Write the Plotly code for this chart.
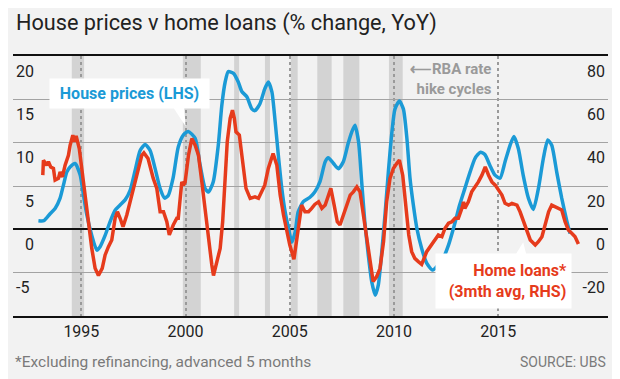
import plotly.graph_objects as go

# ---------------- DATA ----------------
house_year = [1992.94, 1993.2, 1993.5, 1993.74, 1993.98, 1994.14, 1994.3, 1994.46, 1994.7, 1994.94,
              1995.1, 1995.26, 1995.5, 1995.74, 1995.9, 1996.14, 1996.38, 1996.62, 1996.86, 1997.1,
              1997.34, 1997.58, 1997.82, 1998.06, 1998.3, 1998.54, 1998.78, 1999.0, 1999.17, 1999.4,
              1999.65, 1999.9, 2000.13, 2000.46, 2000.7, 2000.94, 2001.1, 2001.33, 2001.57, 2001.74,
              2001.9, 2002.05, 2002.3, 2002.53, 2002.7, 2002.94, 2003.18, 2003.33, 2003.57, 2003.8,
              2003.97, 2004.14, 2004.3, 2004.45, 2004.62, 2004.78, 2004.94, 2005.1, 2005.26, 2005.4,
              2005.65, 2005.97, 2006.2, 2006.45, 2006.7, 2006.85, 2007.1, 2007.33, 2007.57, 2007.8,
              2007.97, 2008.13, 2008.3, 2008.45, 2008.6, 2008.77, 2008.93, 2009.1, 2009.25, 2009.4,
              2009.57, 2009.73, 2009.9, 2010.05, 2010.26, 2010.45, 2010.62, 2010.77, 2010.93, 2011.1,
              2011.33, 2011.57, 2011.85, 2012.13, 2012.37, 2012.62, 2012.9, 2013.15, 2013.4, 2013.65,
              2013.89, 2014.15, 2014.37, 2014.6, 2014.85, 2015.09, 2015.33, 2015.57, 2015.76, 2015.97,
              2016.2, 2016.45, 2016.69, 2016.93, 2017.17, 2017.38, 2017.57, 2017.81, 2018.05, 2018.3,
              2018.45]
house_pct = [1.0, 1.0, 1.8, 2.4, 3.6, 5.1, 6.6, 7.2, 7.6, 6.3,
             4.0, 1.7, -0.7, -2.4, -2.0, -0.7, 0.9, 2.2, 2.8, 3.4,
             4.5, 6.8, 9.1, 9.8, 9.1, 7.0, 4.7, 3.6, 3.9, 5.9,
             9.5, 10.9, 11.3, 10.5, 7.4, 4.7, 4.3, 5.5, 9.7, 14.3,
             17.0, 18.2, 18.0, 17.0, 15.9, 15.3, 13.9, 13.7, 14.5, 16.2,
             17.0, 15.9, 12.4, 8.6, 4.7, 2.0, 0.1, -1.5, -0.3, 2.0,
             3.2, 3.7, 4.3, 5.5, 7.8, 8.25, 7.6, 7.0, 7.8, 9.9,
             11.2, 12.0, 10.1, 5.5, 0.9, -3.0, -6.0, -7.6, -6.4, -3.0,
             1.7, 6.6, 11.2, 13.9, 14.8, 13.9, 10.5, 5.9, 2.8, 0.1,
             -2.2, -3.9, -4.7, -4.1, -3.3, -1.8, 0.5, 2.8, 4.7, 6.6,
             8.2, 8.9, 8.6, 7.4, 6.25, 5.9, 7.8, 9.7, 10.7, 9.3,
             6.25, 3.6, 2.3, 4.7, 8.2, 10.3, 9.7, 6.6, 3.6, 0.9,
             -0.5]

loans_year = [1993.15, 1993.18, 1993.34, 1993.42, 1993.53, 1993.66, 1993.74, 1993.9, 1993.98, 1994.09,
              1994.22, 1994.38, 1994.46, 1994.59, 1994.66, 1994.75, 1994.9, 1995.02, 1995.18, 1995.34,
              1995.5, 1995.66, 1995.82, 1996.0, 1996.14, 1996.3, 1996.46, 1996.62, 1996.73, 1996.86,
              1997.0, 1997.18, 1997.34, 1997.5, 1997.66, 1997.9, 1998.0, 1998.2, 1998.45, 1998.62,
              1998.78, 1998.94, 1999.1, 1999.22, 1999.41, 1999.58, 1999.65, 1999.74, 1999.82, 1999.9,
              1999.98, 2000.14, 2000.3, 2000.46, 2000.62, 2000.78, 2000.94, 2001.1, 2001.26, 2001.34,
              2001.5, 2001.66, 2001.78, 2001.9, 2002.0, 2002.14, 2002.25, 2002.34, 2002.42, 2002.58,
              2002.74, 2002.9, 2003.1, 2003.33, 2003.5, 2003.66, 2003.8, 2003.97, 2004.2, 2004.38,
              2004.54, 2004.7, 2004.86, 2005.0, 2005.2, 2005.4, 2005.57, 2005.73, 2005.9, 2006.05,
              2006.2, 2006.38, 2006.54, 2006.7, 2006.86, 2006.97, 2007.13, 2007.28, 2007.41, 2007.57,
              2007.73, 2007.9, 2008.05, 2008.22, 2008.37, 2008.53, 2008.7, 2008.85, 2009.0, 2009.17,
              2009.33, 2009.5, 2009.65, 2009.81, 2009.97, 2010.13, 2010.26, 2010.42, 2010.58, 2010.71,
              2010.85, 2011.0, 2011.17, 2011.33, 2011.57, 2011.73, 2011.97, 2012.13, 2012.3, 2012.45,
              2012.62, 2012.78, 2012.93, 2013.09, 2013.26, 2013.34, 2013.4, 2013.57, 2013.73, 2013.9,
              2014.05, 2014.22, 2014.38, 2014.54, 2014.7, 2014.86, 2015.02, 2015.18, 2015.33, 2015.5,
              2015.66, 2015.9, 2016.05, 2016.22, 2016.38, 2016.54, 2016.78, 2016.93, 2017.1, 2017.26,
              2017.42, 2017.57, 2017.73, 2017.9, 2018.05, 2018.21, 2018.37, 2018.53, 2018.69, 2018.85]
loans_pct = [25, 31.9, 29.6, 31.2, 28.8, 28.1, 22.7, 23.5, 26.5, 24.2,
             29.6, 34.2, 38.8, 43.5, 40.4, 43.1, 37.3, 28.1, 14.3, 3.5,
             -8.8, -18, -21.3, -18, -11.8, -8.0, -4.9, 5.1, 8.1, 5.1,
             1.2, 6.6, 12.7, 20.4, 26.5, 34.2, 35.3, 32.7, 23.5, 18.9,
             8.1, 8.1, 3.5, -2.6, 2.0, 5.1, 5.1, 15.8, 21.9, 20.4,
             21.9, 34.2, 41.9, 38.8, 34.2, 21.9, 8.1, -4.1, -16.5, -21.3,
             -14.9, -8.8, 3.5, 21.9, 40.4, 51.2, 55, 51.2, 45, 43.5,
             29.6, 18.9, 14.3, 15, 14.3, 17.3, 20.4, 28.1, 35, 29.6,
             15.8, 6.6, -1.1, -7.2, -13.8, 0.5, 11.2, 8.1, 8.1, 9.7,
             11.5, 12.7, 9.7, 11.2, 15.8, 18.9, 11.2, 3.5, 2.0, 6.6,
             10.4, 15.8, 17.3, 19.6, 17.3, 6.6, -5.7, -16.5, -24.1, -21.8,
             -18, -5.7, 12.7, 23.5, 28.1, 30.4, 31.9, 25, 11.2, -2.6,
             -10.3, -13.4, -14.9, -16.2, -10.3, -8.0, -4.9, -2.6, -3.4, 0.5,
             2.8, 3.5, 5.1, 5.1, 9.7, 12.7, 9.7, 12.7, 17.3, 19.6,
             21.9, 25, 28.8, 25, 21.9, 20.4, 18.1, 15.8, 12, 11.2,
             12, 11.2, 8.1, 3.5, -1.1, -4.9, -7.2, -5.7, -3.4, 2.8,
             8.1, 11.2, 10.4, 9.7, 8.9, 3.5, -0.3, -1.8, -3.4, -6.8]

# RBA rate hike cycles (start, end) in decimal years
hike_start = [1994.54, 1999.87, 2002.33, 2003.81, 2005.05, 2006.32, 2007.57, 2009.76]
hike_end = [1995.13, 2000.73, 2002.57, 2004.05, 2005.38, 2007.01, 2008.34, 2010.42]

x_ticks = [1995, 2000, 2005, 2010, 2015]
x_ticktext = ["1995", "2000", "2005", "2010", "2015"]
left_ticks = [-5, 0, 5, 10, 15, 20]
left_ticktext = ["-5", "\u20070", "\u20075", "10", "15", "20"]
right_ticks = [-20, 0, 20, 40, 60, 80]
right_ticktext = ["-20", "0", "20", "40", "60", "80"]

# ---------------- STYLE ----------------
BG = "#f2f2f2"
BLUE = "#1b9ad6"
RED = "#e63b1c"
FONT = "Roboto"
# the page body adds an 8px offset; the figure is sized to fill the rest of the window
W, H = 612, 371

fig = go.Figure()

fig.add_trace(go.Scatter(x=house_year, y=house_pct, mode="lines", yaxis="y",
                         line=dict(color=BLUE, width=3.5, shape="spline", smoothing=0.6),
                         hoverinfo="skip", showlegend=False))
fig.add_trace(go.Scatter(x=loans_year, y=loans_pct, mode="lines", yaxis="y2",
                         line=dict(color=RED, width=3.5),
                         hoverinfo="skip", showlegend=False))

shapes = []
for s, e in zip(hike_start, hike_end):
    shapes.append(dict(type="rect", xref="x", yref="paper", x0=s, x1=e, y0=0, y1=1,
                       fillcolor="#d3d3d3", line=dict(width=0), layer="below"))

# callout wedges
shapes.append(dict(type="path", xref="x", yref="y",
                   path="M 1999.35,14.3 L 1999.93,14.3 L 2000.0,11.9 Z",
                   fillcolor="white", line=dict(width=0), layer="above"))
shapes.append(dict(type="path", xref="x", yref="y2",
                   path="M 2015.72,-13.5 L 2016.4,-13.5 L 2016.2,-6.0 Z",
                   fillcolor="white", line=dict(width=0), layer="above"))

annotations = [
    dict(text="House prices (LHS)", xref="paper", yref="paper", x=0.1958, y=0.8548,
         xanchor="center", yanchor="middle", showarrow=False, bgcolor="white",
         width=159, height=29, borderpad=0,
         font=dict(family=FONT, size=16, color=BLUE, weight="bold")),
    dict(text="Home loans*<br>(3mth avg, RHS)", xref="paper", yref="paper", x=0.8244, y=0.1345,
         xanchor="center", yanchor="middle", showarrow=False, bgcolor="white", align="right",
         width=127, height=46, borderpad=4,
         font=dict(family=FONT, size=16, color=RED, weight="bold")),
    dict(text="\u27F5RBA rate<br>hike cycles", xref="paper", yref="paper", x=0.8084, y=0.9105,
         xanchor="right", yanchor="middle", showarrow=False, align="right",
         font=dict(family=FONT, size=15, color="#9a9a9a", weight="bold")),
    dict(text="*Excluding refinancing, advanced 5 months", xref="paper", yref="paper",
         x=0, y=-0.1767, xanchor="left", yanchor="middle", showarrow=False,
         font=dict(family=FONT, size=15.5, color="#7a7a7a")),
    dict(text="SOURCE: UBS", xref="paper", yref="paper",
         x=1, y=-0.1767, xanchor="right", yanchor="middle", showarrow=False,
         font=dict(family=FONT, size=14, color="#7a7a7a")),
]

fig.update_layout(
    width=W, height=H,
    margin=dict(l=5, r=12, t=48, b=63, autoexpand=False),
    paper_bgcolor=BG, plot_bgcolor=BG,
    title=dict(text="House prices v home loans (% change, YoY)", xref="container", yref="container",
               x=8 / W, y=1 - 14 / H, xanchor="left", yanchor="middle",
               font=dict(family=FONT, size=21.7, color="#222222")),
    xaxis=dict(range=[1991.72, 2020.27], tickvals=x_ticks, ticktext=x_ticktext, automargin=False,
               showgrid=True, griddash="dot", gridcolor="#9a9a9a", gridwidth=1.5,
               showline=True, mirror=True, linecolor="#111111", linewidth=1.5,
               zeroline=False, ticks="", tickfont=dict(family=FONT, size=16, color="#222222"),
               fixedrange=True),
    yaxis=dict(range=[-10, 20], tickvals=left_ticks, ticktext=left_ticktext, automargin=False,
               showgrid=True, gridcolor="#a3a3a3", gridwidth=1.2,
               zeroline=True, zerolinecolor="#111111", zerolinewidth=1.5,
               showline=False, ticks="", ticklabelposition="inside", ticklabelshift=15,
               ticklabeloverflow="allow",
               tickfont=dict(family=FONT, size=16, color="#222222"), fixedrange=True),
    yaxis2=dict(range=[-40, 80], tickvals=right_ticks, ticktext=right_ticktext, automargin=False,
                overlaying="y", side="right", showgrid=False, zeroline=False,
                showline=False, ticks="", ticklabelposition="inside", ticklabelshift=15,
                ticklabeloverflow="allow",
                tickfont=dict(family=FONT, size=16, color="#222222"), fixedrange=True),
    shapes=shapes,
    annotations=annotations,
)

fig.write_html("out.html")
